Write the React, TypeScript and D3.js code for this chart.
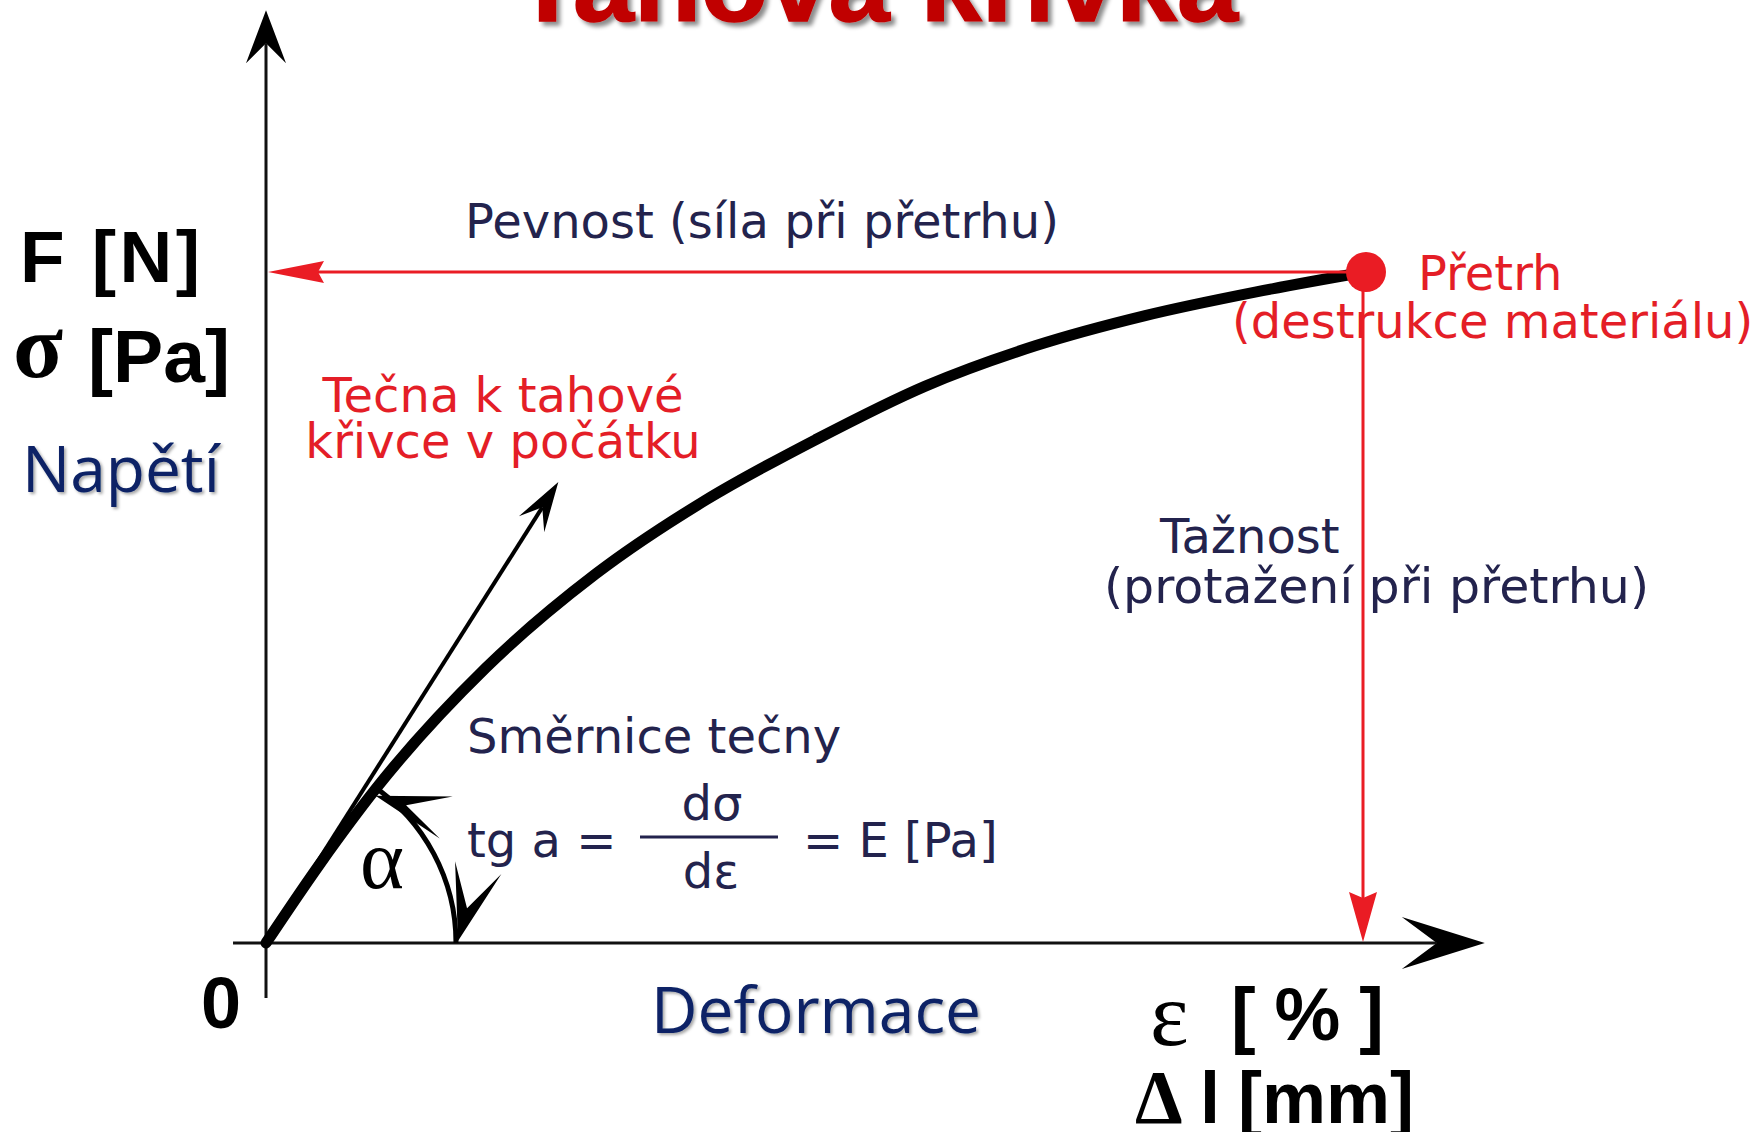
import React from 'react';
import * as d3 from 'd3';

const W = 1754;
const H = 1132;

// Tensile curve: strain (as % of strain at break) vs. stress (as % of strength)
const strain = [0, 5, 10, 20, 30, 40, 50, 60, 70, 80, 90, 100];
const stress = [0, 12, 23, 41, 55, 66, 75, 83, 89, 93.5, 97, 100];
const breakStrain = 100;
const breakStress = 100;
// End of the tangent drawn from the origin
const tangentTip = [26.6, 68.7];
// How far the axes run past the origin / break point
const xAxisExtent = [-3, 110.9];
const yAxisExtent = [-8.2, 139];

const NAVY = '#23234d';
const RED = '#ea1c24';
const RED_TEXT = '#e41e27';
const TITLE_RED = '#c00000';
const DARK_BLUE = '#0b2466';

const VERDANA = '"DejaVu Sans", Verdana, sans-serif';
const ARIAL = '"Liberation Sans", Arial, sans-serif';
const TIMES = '"Liberation Serif", "Times New Roman", serif';
const CALIBRI = '"Open Sans", "Noto Sans", sans-serif';

// Arrowhead pointing along `angle` with its tip at (tx, ty); `notch` is the
// distance from the tip to the inner notch point of the head.
function arrowHead(tx: number, ty: number, angle: number, len: number, half: number, notch: number) {
  const dx = Math.cos(angle);
  const dy = Math.sin(angle);
  const nx = -dy;
  const ny = dx;
  const bx = tx - len * dx;
  const by = ty - len * dy;
  const p = d3.path();
  p.moveTo(tx, ty);
  p.lineTo(bx + half * nx, by + half * ny);
  p.lineTo(tx - notch * dx, ty - notch * dy);
  p.lineTo(bx - half * nx, by - half * ny);
  p.closePath();
  return p.toString();
}

export default function App() {
  const x = d3.scaleLinear().domain([0, 100]).range([266, 1365]);
  const y = d3.scaleLinear().domain([0, 100]).range([943, 272]);

  const ox = x(0);
  const oy = y(0);

  const points = strain.map((s, i) => [s, stress[i]] as [number, number]);
  const curvePath = d3
    .line<[number, number]>()
    .x((d) => x(d[0]))
    .y((d) => y(d[1]))
    .curve(d3.curveMonotoneX)(points) as string;

  // axes
  const xTip = x(xAxisExtent[1]);
  const yTip = y(yAxisExtent[1]);
  const xNotch = 48;
  const yNotch = 33;

  // tangent
  const tx = x(tangentTip[0]);
  const ty = y(tangentTip[1]);
  const tAngle = Math.atan2(ty - oy, tx - ox);
  const tNotch = 30;

  // angle arc between x-axis and tangent
  const r = 190;
  const theta = Math.atan2(oy - ty, tx - ox) - 0.03;
  const arc = d3.path();
  arc.moveTo(ox + r * Math.cos(-theta), oy + r * Math.sin(-theta));
  arc.arc(ox, oy, r, -theta, 0, false);
  const arcTopX = ox + r * Math.cos(-theta);
  const arcTopY = oy + r * Math.sin(-theta);
  const arcBotX = ox + r + 2;
  const arcBotY = oy - 2;

  // break point
  const bx = x(breakStrain);
  const by = y(breakStress);

  return (
    <svg
      width={W}
      height={H}
      viewBox={`0 0 ${W} ${H}`}
      style={{ position: 'absolute', left: 0, top: 0, display: 'block', background: '#fff' }}
    >
      <defs>
        <filter id="titleShadow" x="-10%" y="-50%" width="120%" height="200%">
          <feDropShadow dx="4" dy="4" stdDeviation="2" floodColor="#000" floodOpacity="0.45" />
        </filter>
        <filter id="softShadow" x="-10%" y="-30%" width="120%" height="160%">
          <feDropShadow dx="2" dy="2" stdDeviation="1.5" floodColor="#000" floodOpacity="0.35" />
        </filter>
      </defs>
      <rect x={0} y={0} width={W} height={H} fill="#fff" />

      {/* title */}
      <text
        x={514}
        y={21}
        fontFamily={ARIAL}
        fontWeight="bold"
        fontSize={106}
        fill={TITLE_RED}
        stroke={TITLE_RED}
        strokeWidth={1.5}
        textLength={724}
        lengthAdjust="spacingAndGlyphs"
        filter="url(#titleShadow)"
      >
        Tahová křivka
      </text>

      {/* axes */}
      <line x1={x(xAxisExtent[0])} y1={oy} x2={xTip - xNotch} y2={oy} stroke="#111" strokeWidth={3} />
      <path d={arrowHead(xTip, oy, 0, 83, 26, xNotch)} fill="#000" />
      <line x1={ox} y1={y(yAxisExtent[0])} x2={ox} y2={yTip + yNotch} stroke="#111" strokeWidth={3} />
      <path d={arrowHead(ox, yTip, -Math.PI / 2, 53, 20, yNotch)} fill="#000" />

      {/* tangent at origin */}
      <line
        x1={ox}
        y1={oy}
        x2={tx - tNotch * Math.cos(tAngle)}
        y2={ty - tNotch * Math.sin(tAngle)}
        stroke="#000"
        strokeWidth={4}
      />
      <path d={arrowHead(tx, ty, tAngle, 50, 15, tNotch)} fill="#000" />

      {/* angle arc */}
      <path d={arc.toString()} fill="none" stroke="#000" strokeWidth={5} />
      <path d={arrowHead(arcTopX + 3, arcTopY + 10, Math.PI + 0.3, 74, 22, 32)} fill="#000" />
      <path d={arrowHead(arcBotX, arcBotY, 1.84, 76, 24, 34)} fill="#000" />
      <text x={360} y={888} fontFamily={TIMES} fontSize={84} fill="#000">
        α
      </text>

      {/* tensile curve */}
      <path d={curvePath} fill="none" stroke="#000" strokeWidth={11} strokeLinecap="round" />

      {/* labels */}
      <text x={465} y={238} fontFamily={VERDANA} fontSize={48} fill={NAVY}>
        Pevnost (síla při přetrhu)
      </text>
      <text x={503} y={412} textAnchor="middle" fontFamily={VERDANA} fontSize={48} fill={RED_TEXT}>
        Tečna k tahové
      </text>
      <text x={503} y={458} textAnchor="middle" fontFamily={VERDANA} fontSize={48} fill={RED_TEXT}>
        křivce v počátku
      </text>
      <text x={1418} y={290} fontFamily={VERDANA} fontSize={48} fill={RED_TEXT}>
        Přetrh
      </text>
      <text x={1232} y={338} fontFamily={VERDANA} fontSize={48} fill={RED_TEXT}>
        (destrukce materiálu)
      </text>
      <text x={1160} y={553} fontFamily={VERDANA} fontSize={48} fill={NAVY}>
        Tažnost
      </text>
      <text x={1104} y={603} fontFamily={VERDANA} fontSize={48} fill={NAVY} textLength={545} lengthAdjust="spacingAndGlyphs">
        (protažení při přetrhu)
      </text>
      <text x={467} y={753} fontFamily={VERDANA} fontSize={48} fill={NAVY}>
        Směrnice tečny
      </text>
      <text x={467} y={857} fontFamily={VERDANA} fontSize={48} fill={NAVY}>
        tg a =
      </text>
      <text x={712} y={820} textAnchor="middle" fontFamily={VERDANA} fontSize={48} fill={NAVY}>
        dσ
      </text>
      <line x1={640} y1={837} x2={778} y2={837} stroke={NAVY} strokeWidth={3} />
      <text x={711} y={888} textAnchor="middle" fontFamily={VERDANA} fontSize={48} fill={NAVY}>
        dε
      </text>
      <text x={803} y={857} fontFamily={VERDANA} fontSize={48} fill={NAVY}>
        = E [Pa]
      </text>

      {/* red guides: strength and elongation at break */}
      <line x1={bx} y1={by} x2={x(0) + 40} y2={by} stroke={RED} strokeWidth={3} />
      <path d={arrowHead(x(0) + 2, by, Math.PI, 56, 11, 50)} fill={RED} />
      <line x1={bx - 2} y1={by} x2={bx - 2} y2={oy - 40} stroke={RED} strokeWidth={3} />
      <path d={arrowHead(bx - 2, oy - 1, Math.PI / 2, 50, 14, 44)} fill={RED} />
      <circle cx={bx + 1} cy={by} r={20} fill={RED} />

      {/* axis titles */}
      <text x={20} y={282} fontFamily={ARIAL} fontWeight="bold" fontSize={73} fill="#000" textLength={180} lengthAdjust="spacing">
        F [N]
      </text>
      <text x={13} y={377} fontFamily={TIMES} fontWeight="bold" fontSize={92} fill="#000">
        σ
      </text>
      <text x={88} y={382} fontFamily={ARIAL} fontWeight="bold" fontSize={74} fill="#000" textLength={142} lengthAdjust="spacingAndGlyphs">
        [Pa]
      </text>
      <text x={22} y={492} fontFamily={CALIBRI} fontSize={64} fill={DARK_BLUE} filter="url(#softShadow)">
        Napětí
      </text>
      <text x={201} y={1028} fontFamily={ARIAL} fontWeight="bold" fontSize={72} fill="#000">
        0
      </text>
      <text x={651} y={1033} fontFamily={CALIBRI} fontSize={64} fill={DARK_BLUE} filter="url(#softShadow)">
        Deformace
      </text>
      <text x={1150} y={1045} fontFamily={TIMES} fontSize={92} fill="#000">
        ε
      </text>
      <text x={1231} y={1040} fontFamily={ARIAL} fontWeight="bold" fontSize={74} fill="#000" textLength={153} lengthAdjust="spacing">
        [ % ]
      </text>
      <text x={1135} y={1123} fontFamily={TIMES} fontWeight="bold" fontSize={76} fill="#000">
        Δ
      </text>
      <text x={1200} y={1123} fontFamily={ARIAL} fontWeight="bold" fontSize={72} fill="#000">
        l
      </text>
      <text x={1238} y={1123} fontFamily={ARIAL} fontWeight="bold" fontSize={72} fill="#000" textLength={176} lengthAdjust="spacingAndGlyphs">
        [mm]
      </text>
    </svg>
  );
}
